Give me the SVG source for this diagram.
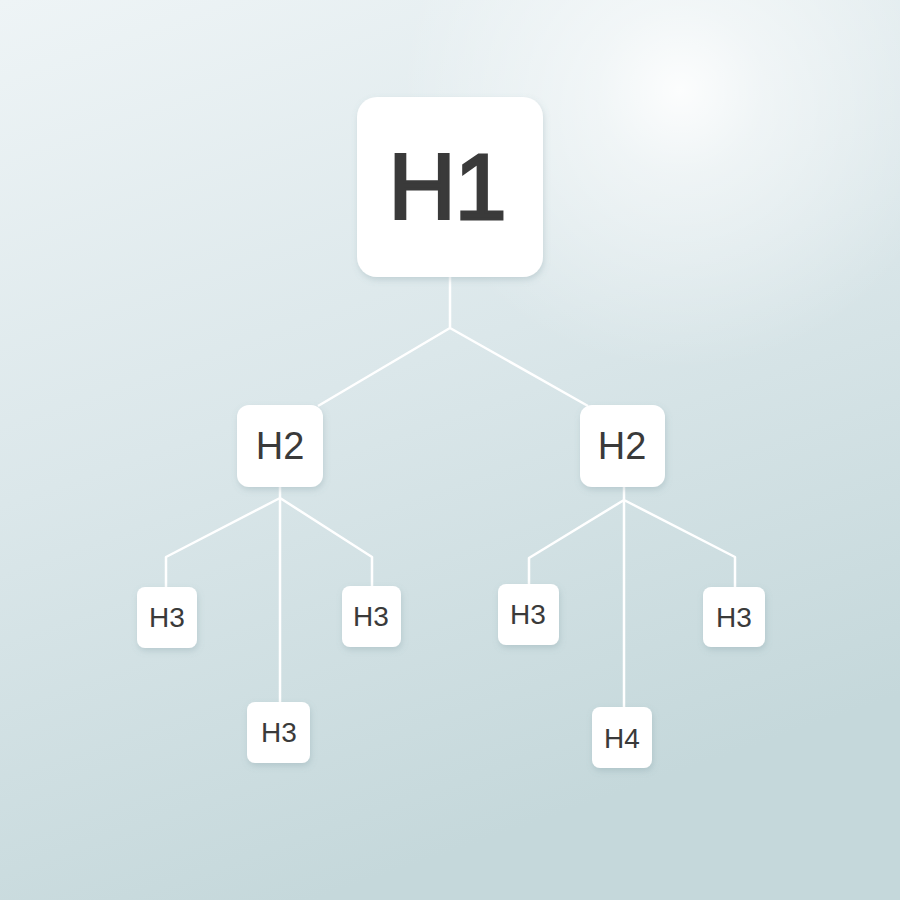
<svg xmlns="http://www.w3.org/2000/svg" width="900" height="900" viewBox="0 0 900 900">
<defs>
<linearGradient id="bg" x1="0" y1="0" x2="0.35" y2="1">
<stop offset="0" stop-color="#eef4f6"/>
<stop offset="0.5" stop-color="#dbe7ea"/>
<stop offset="1" stop-color="#c5d8db"/>
</linearGradient>
<radialGradient id="glow" cx="680" cy="90" r="280" gradientUnits="userSpaceOnUse">
<stop offset="0" stop-color="#ffffff" stop-opacity="0.9"/>
<stop offset="0.3" stop-color="#ffffff" stop-opacity="0.5"/>
<stop offset="1" stop-color="#ffffff" stop-opacity="0"/>
</radialGradient>
<filter id="sh" x="-30%" y="-30%" width="160%" height="160%">
<feDropShadow dx="1" dy="3" stdDeviation="3" flood-color="#6a8a90" flood-opacity="0.25"/>
</filter>
</defs>
<style>
.n{fill:#ffffff;filter:url(#sh)}
.t{font-family:"Liberation Sans",Arial,sans-serif;fill:#3a3a3a;text-anchor:middle;dominant-baseline:central}
.c{fill:none;stroke:#ffffff;stroke-width:2.5;stroke-linejoin:round}
</style>
<rect width="900" height="900" fill="url(#bg)"/>
<rect width="900" height="900" fill="url(#glow)"/>
<g id="connectors">
<path class="c" d="M450 277 V328 L318 406 M450 328 L588 406"/>
<path class="c" d="M280 487 V498 M280 498 L166 557 V587 M280 498 L372 557 V586 M280 498 V702"/>
<path class="c" d="M624 487 V500 M624 500 L529 558 V584 M624 500 L735 557 V587 M624 500 V707"/>
</g>
<g id="h1"><rect class="n" x="357" y="97" width="186" height="180" rx="20"/><text class="t" x="447" y="187" font-size="93" letter-spacing="-1" stroke="#3a3a3a" stroke-width="3">H1</text></g>
<g id="h2a"><rect class="n" x="237" y="405" width="86" height="82" rx="12"/><text class="t" x="280" y="446" font-size="38">H2</text></g>
<g id="h2b"><rect class="n" x="580" y="405" width="85" height="82" rx="12"/><text class="t" x="622" y="446" font-size="38">H2</text></g>
<g id="h3a"><rect class="n" x="137" y="587" width="60" height="61" rx="8"/><text class="t" x="167" y="617" font-size="28">H3</text></g>
<g id="h3b"><rect class="n" x="342" y="586" width="59" height="61" rx="8"/><text class="t" x="371" y="616" font-size="28">H3</text></g>
<g id="h3c"><rect class="n" x="247" y="702" width="63" height="61" rx="8"/><text class="t" x="279" y="732" font-size="28">H3</text></g>
<g id="h3d"><rect class="n" x="498" y="584" width="61" height="61" rx="8"/><text class="t" x="528" y="614" font-size="28">H3</text></g>
<g id="h3e"><rect class="n" x="703" y="587" width="62" height="60" rx="8"/><text class="t" x="734" y="617" font-size="28">H3</text></g>
<g id="h4"><rect class="n" x="592" y="707" width="60" height="61" rx="8"/><text class="t" x="622" y="738" font-size="28">H4</text></g>
</svg>
